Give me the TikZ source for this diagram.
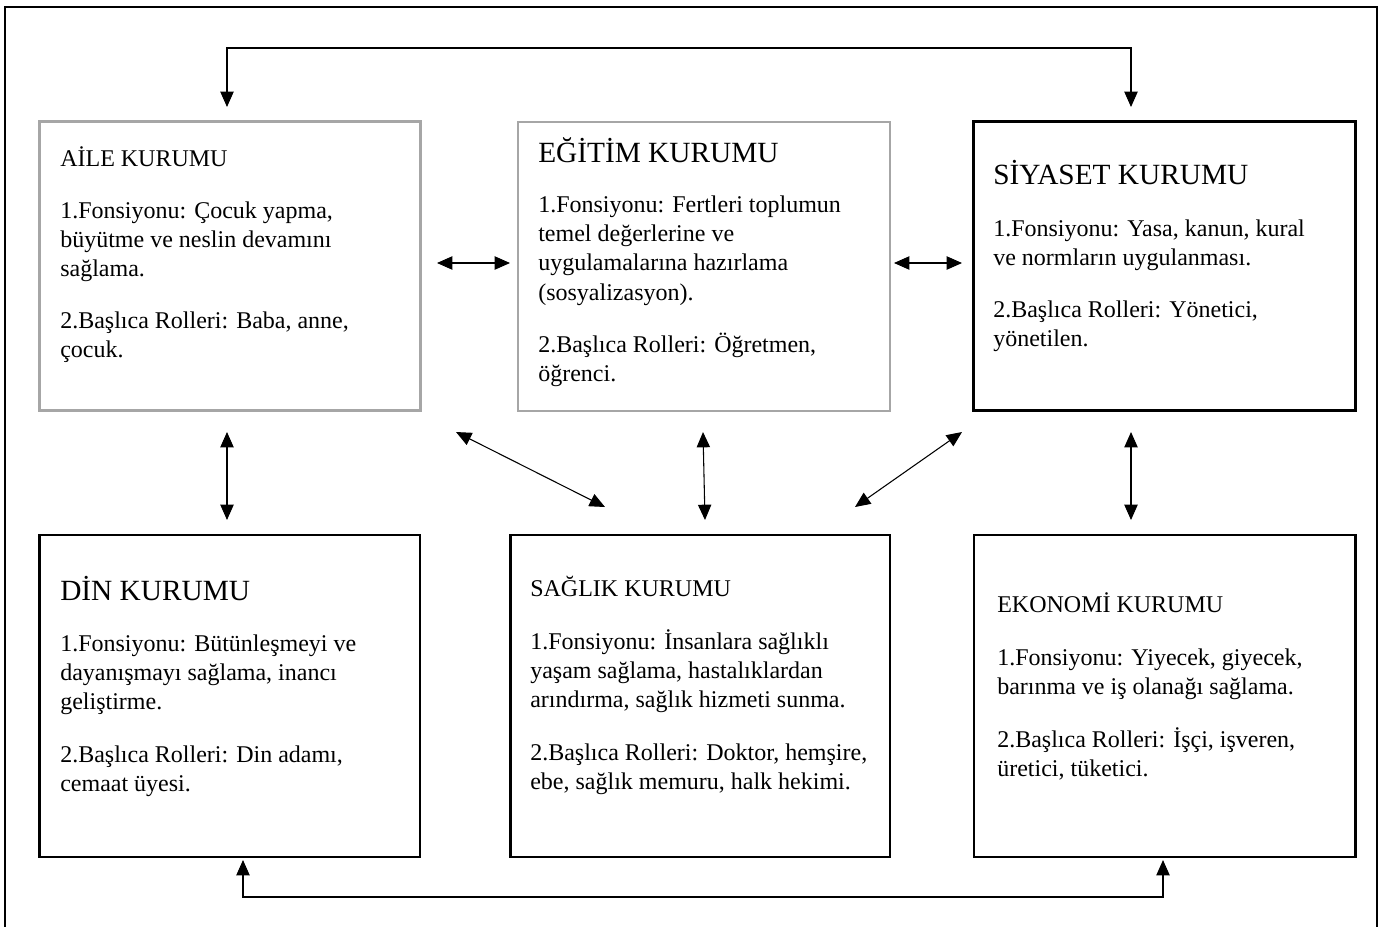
\documentclass[tikz,border=0pt]{standalone}
\usepackage{fontspec}
\setmainfont{Liberation Serif}
\usetikzlibrary{arrows.meta}
\definecolor{boxgray}{RGB}{166,166,166}
\newcommand\TL[4]{\node[txt] (#1) at (#2,#3) {#4};}
\newcommand\BT[4]{\node[bigtxt] (#1) at (#2,#3) {#4};}
\begin{document}
\begin{tikzpicture}[x=0.75pt,y=-0.75pt,
  >={Triangle[length=11.5pt,width=10pt]},
  conn/.style={line width=0.8pt,draw=black},
  graybox/.style={draw=boxgray,line width=1.6pt,anchor=north west,inner sep=0pt,outer sep=0pt},
  blackbox/.style={draw=black,line width=1.8pt,anchor=north west,inner sep=0pt,outer sep=0pt},
  txt/.style={anchor=base west,inner sep=0pt,font=\fontsize{18}{22}\selectfont},
  bigtxt/.style={anchor=base west,inner sep=0pt,font=\fontsize{22}{26}\selectfont},
  frame/.style={draw=black,line width=2pt}]
\useasboundingbox (0,0) rectangle (1384,926);
\begin{scope}
\clip (0,0) rectangle (1384,926);
\draw[frame] (5,940) -- (5,7) -- (1377,7) -- (1377,940);
\end{scope}

% boxes
\node[graybox,minimum width=285.75pt,minimum height=216.75pt] (aile) at (39.5,121.5) {};
\node[graybox,minimum width=279pt,minimum height=216.75pt] (egitim) at (518,122) {};
\node[blackbox,minimum width=286.5pt,minimum height=216.75pt] (siyaset) at (973.5,121.5) {};
\node[blackbox,minimum width=285.4pt,minimum height=241.5pt] (din) at (39.5,535) {};
\node[blackbox,minimum width=284.6pt,minimum height=241.5pt] (saglik) at (510.5,535) {};
\node[blackbox,minimum width=286.1pt,minimum height=241.5pt] (ekonomi) at (974,535) {};

% AILE
\TL{a0}{60}{166}{AİLE KURUMU}
\TL{a1}{60}{218}{1.Fonsiyonu: Çocuk yapma,}
\TL{a2}{60}{247}{büyütme ve neslin devamını}
\TL{a3}{60}{276}{sağlama.}
\TL{a4}{60}{328}{2.Başlıca Rolleri: Baba, anne,}
\TL{a5}{60}{357}{çocuk.}

% EGITIM
\BT{e0}{538}{162}{EĞİTİM KURUMU}
\TL{e1}{538}{212}{1.Fonsiyonu: Fertleri toplumun}
\TL{e2}{538}{241}{temel değerlerine ve}
\TL{e3}{538}{270}{uygulamalarına hazırlama}
\TL{e4}{538}{300}{(sosyalizasyon).}
\TL{e5}{538}{352}{2.Başlıca Rolleri: Öğretmen,}
\TL{e6}{538}{381}{öğrenci.}

% SIYASET
\BT{s0}{993}{184}{SİYASET KURUMU}
\TL{s1}{993}{236}{1.Fonsiyonu: Yasa, kanun, kural}
\TL{s2}{993}{265}{ve normların uygulanması.}
\TL{s3}{993}{317}{2.Başlıca Rolleri: Yönetici,}
\TL{s4}{993}{346}{yönetilen.}

% DIN
\BT{d0}{60}{600}{DİN KURUMU}
\TL{d1}{60}{651}{1.Fonsiyonu: Bütünleşmeyi ve}
\TL{d2}{60}{680}{dayanışmayı sağlama, inancı}
\TL{d3}{60}{709}{geliştirme.}
\TL{d4}{60}{762}{2.Başlıca Rolleri: Din adamı,}
\TL{d5}{60}{791}{cemaat üyesi.}

% SAGLIK
\TL{g0}{530}{596}{SAĞLIK KURUMU}
\TL{g1}{530}{649}{1.Fonsiyonu: İnsanlara sağlıklı}
\TL{g2}{530}{678}{yaşam sağlama, hastalıklardan}
\TL{g3}{530}{707}{arındırma, sağlık hizmeti sunma.}
\TL{g4}{530}{760}{2.Başlıca Rolleri: Doktor, hemşire,}
\TL{g5}{530}{789}{ebe, sağlık memuru, halk hekimi.}

% EKONOMI
\TL{k0}{997}{612}{EKONOMİ KURUMU}
\TL{k1}{997}{665}{1.Fonsiyonu: Yiyecek, giyecek,}
\TL{k2}{997}{694}{barınma ve iş olanağı sağlama.}
\TL{k3}{997}{747}{2.Başlıca Rolleri: İşçi, işveren,}
\TL{k4}{997}{776}{üretici, tüketici.}

% connector end points
\coordinate (tl) at (227,48);
\coordinate (tr) at (1131,48);
\coordinate (tla) at (227,107);
\coordinate (tra) at (1131,107);
\coordinate (h1a) at (437,263);
\coordinate (h1b) at (510,263);
\coordinate (h2a) at (894,263);
\coordinate (h2b) at (962,263);
\coordinate (v1a) at (227,432);
\coordinate (v1b) at (227,520);
\coordinate (v2a) at (703,432);
\coordinate (v2b) at (705,520);
\coordinate (v3a) at (1131,432);
\coordinate (v3b) at (1131,520);
\coordinate (dla) at (456,432);
\coordinate (dlb) at (605,507);
\coordinate (dra) at (962,432);
\coordinate (drb) at (855,507);
\coordinate (bl) at (243,897);
\coordinate (br) at (1163,897);
\coordinate (bla) at (243,860);
\coordinate (bra) at (1163,860);

\draw[conn,->] (tr) -- (tl) -- (tla);
\draw[conn,->] (tl) -- (tr) -- (tra);
\draw[conn,<->] (h1a) -- (h1b);
\draw[conn,<->] (h2a) -- (h2b);
\draw[conn,<->] (v1a) -- (v1b);
\draw[conn,<->] (v2a) -- (v2b);
\draw[conn,<->] (v3a) -- (v3b);
\draw[conn,<->] (dla) -- (dlb);
\draw[conn,<->] (dra) -- (drb);
\draw[conn,->] (br) -- (bl) -- (bla);
\draw[conn,->] (bl) -- (br) -- (bra);
\end{tikzpicture}
\end{document}
